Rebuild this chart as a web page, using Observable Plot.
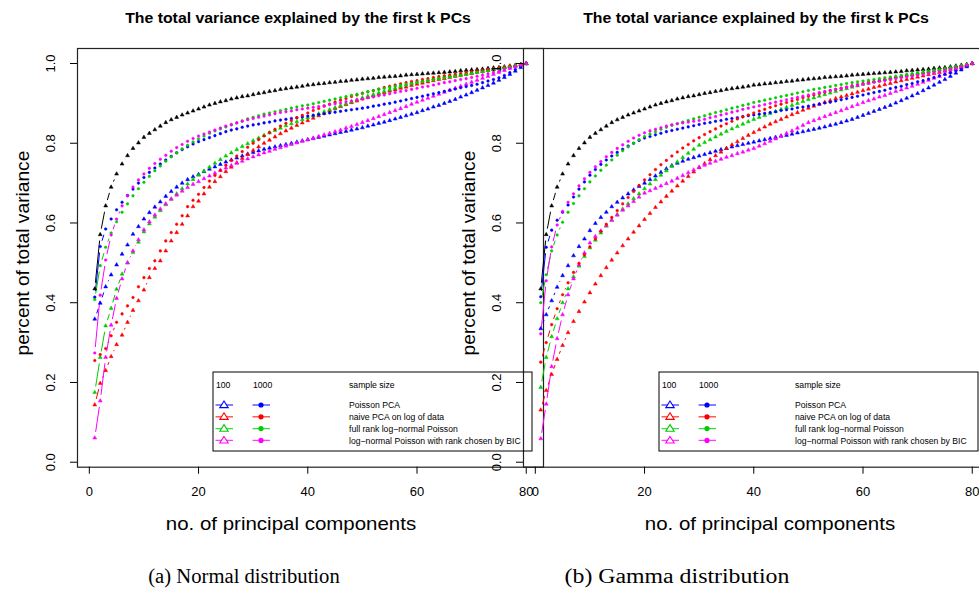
<!DOCTYPE html>
<html><head><meta charset="utf-8">
<script src="https://cdn.jsdelivr.net/npm/d3@7"></script>
<script src="https://cdn.jsdelivr.net/npm/@observablehq/plot@0.6"></script>
<style>
body{margin:0;background:#fff;}
#wrap{position:relative;width:979px;height:589px;overflow:hidden;font-family:"Liberation Sans",Arial,sans-serif;color:#000;}
.abs{position:absolute;}
.title{font-weight:bold;font-size:14px;line-height:14px;white-space:nowrap;}
.xlab{font-size:19px;line-height:19px;white-space:nowrap;}
.ylab{font-size:19px;line-height:19px;white-space:nowrap;}
.cap{font-family:"Liberation Serif","Times New Roman",serif;font-size:20px;line-height:20px;white-space:nowrap;}
</style>
</head><body>
<div id="wrap"></div>
<script>
// ---------- data ----------
const xTicks = [0, 20, 40, 60, 80];
const yTicks = [0, 0.2, 0.4, 0.6, 0.8, 1.0];
const sampleSizes = ["100", "1000"];
const methods = ["Poisson PCA", "naive PCA on log of data", "full rank log\u2212normal Poisson", "log\u2212normal Poisson with rank chosen by BIC"];
const methodColors = ["#0000FF", "#FF0000", "#00CD00", "#FF00FF"];
const panelTitles = ["The total variance explained by the first k PCs", "The total variance explained by the first k PCs"];
const captions = ["(a) Normal distribution", "(b) Gamma distribution"];
const xLabel = "no. of principal components";
const yLabel = "percent of total variance";

// black curve (same in both panels)
const trueCurve = [.435,.571,.643,.690,.723,.748,.769,.787,.801,.815,.825,.834,.843,.852,.859,.865,.871,.876,.881,.886,
.891,.896,.900,.904,.907,.911,.914,.917,.919,.922,.925,.927,.930,.932,.935,.937,.939,.941,.943,.946,
.947,.949,.950,.952,.953,.955,.956,.958,.959,.961,.962,.963,.965,.966,.967,.968,.969,.971,.972,.973,
.974,.975,.976,.977,.978,.979,.980,.982,.983,.984,.985,.986,.988,.989,.990,.992,.994,.996,.998,1.000];

// (a) Normal distribution
const normPoisson1000 = [.414,.541,.585,.610,.633,.652,.669,.685,.700,.714,.727,.738,.748,.758,.767,.776,.784,.791,.798,.804,
.809,.814,.819,.824,.829,.833,.836,.840,.843,.846,.848,.851,.853,.856,.858,.860,.862,.864,.866,.868,
.870,.872,.874,.876,.878,.880,.882,.884,.886,.888,.890,.893,.895,.898,.900,.903,.906,.909,.912,.915,
.918,.921,.924,.927,.930,.933,.936,.939,.942,.945,.948,.952,.956,.960,.964,.970,.977,.985,.992,1.0];
const normPoisson100 = [.359,.399,.440,.470,.495,.522,.545,.572,.591,.610,.626,.640,.653,.667,.679,.690,.700,.709,.716,.722,
.729,.735,.741,.747,.753,.758,.763,.768,.773,.777,.781,.785,.788,.791,.794,.797,.800,.803,.806,.809,
.812,.815,.818,.821,.824,.827,.830,.833,.836,.839,.843,.846,.850,.853,.857,.861,.865,.869,.873,.877,
.882,.886,.891,.895,.900,.905,.910,.916,.921,.927,.933,.939,.945,.951,.958,.965,.973,.981,.990,1.0];
const normNaive1000 = [.255,.270,.285,.317,.351,.372,.392,.413,.440,.463,.486,.505,.530,.555,.576,.597,.618,.641,.657,.672,
.689,.705,.719,.732,.745,.757,.768,.779,.790,.800,.809,.818,.827,.835,.843,.850,.857,.864,.870,.876,
.882,.887,.893,.898,.903,.908,.912,.917,.921,.925,.929,.932,.936,.940,.943,.946,.949,.952,.955,.957,
.960,.962,.965,.967,.969,.971,.973,.975,.977,.979,.981,.983,.985,.987,.989,.991,.993,.995,.997,1.0];
const normNaive100 = [.144,.198,.230,.265,.295,.319,.351,.381,.405,.432,.463,.486,.505,.530,.555,.576,.597,.618,.641,.655,
.673,.690,.704,.716,.729,.740,.751,.762,.772,.782,.791,.800,.808,.816,.824,.831,.838,.845,.851,.857,
.863,.869,.875,.881,.887,.892,.897,.902,.906,.911,.915,.919,.923,.927,.931,.934,.938,.941,.945,.948,
.951,.954,.957,.960,.962,.965,.968,.970,.973,.975,.978,.980,.983,.985,.988,.990,.993,.995,.998,1.0];
const normFull1000 = [.408,.493,.539,.575,.603,.627,.648,.668,.686,.702,.717,.731,.743,.755,.766,.776,.786,.795,.803,.811,
.818,.825,.831,.836,.841,.846,.851,.856,.861,.865,.869,.873,.876,.879,.882,.885,.888,.891,.894,.896,
.899,.902,.905,.908,.911,.914,.917,.920,.923,.926,.929,.932,.935,.938,.940,.943,.945,.948,.950,.953,
.955,.957,.959,.962,.964,.966,.968,.970,.972,.975,.977,.979,.981,.983,.986,.988,.991,.994,.997,1.0];
const normFull100 = [.175,.263,.342,.386,.434,.472,.500,.526,.552,.578,.598,.615,.631,.646,.660,.673,.686,.698,.709,.720,
.730,.740,.750,.759,.768,.776,.784,.792,.799,.806,.813,.820,.826,.832,.838,.844,.849,.854,.859,.864,
.869,.874,.879,.884,.889,.894,.899,.904,.909,.914,.918,.922,.926,.930,.934,.938,.942,.946,.950,.953,
.956,.959,.962,.964,.967,.969,.971,.973,.975,.977,.979,.981,.983,.985,.987,.990,.992,.995,.997,1.0];
const normBIC1000 = [.274,.419,.507,.570,.610,.643,.668,.690,.708,.723,.737,.749,.760,.770,.780,.789,.797,.805,.812,.818,
.823,.828,.833,.838,.843,.847,.851,.855,.859,.862,.865,.868,.871,.874,.877,.879,.881,.884,.886,.888,
.890,.892,.894,.897,.899,.901,.904,.906,.909,.911,.914,.916,.919,.921,.924,.927,.930,.932,.935,.938,
.941,.943,.946,.949,.952,.954,.957,.960,.962,.965,.968,.971,.974,.977,.980,.984,.988,.992,.996,1.0];
const normBIC100 = [.061,.154,.263,.344,.411,.460,.500,.530,.558,.583,.603,.620,.635,.648,.660,.670,.680,.689,.697,.704,
.711,.718,.725,.732,.738,.744,.750,.755,.761,.766,.771,.776,.780,.785,.789,.793,.797,.801,.805,.809,
.813,.817,.821,.825,.829,.833,.838,.842,.847,.852,.857,.862,.867,.872,.877,.882,.887,.892,.898,.903,
.908,.913,.918,.923,.928,.933,.938,.943,.948,.953,.958,.963,.968,.973,.978,.983,.988,.992,.996,1.0];

// (b) Gamma distribution
const gammaPoisson1000 = [.415,.539,.582,.607,.627,.645,.665,.685,.703,.720,.734,.747,.758,.768,.777,.785,.793,.800,.807,.813,
.817,.821,.825,.829,.832,.835,.838,.841,.844,.847,.850,.852,.855,.857,.860,.862,.864,.867,.869,.871,
.873,.875,.877,.879,.882,.884,.886,.889,.891,.893,.896,.898,.901,.903,.906,.909,.912,.915,.918,.921,
.924,.927,.930,.933,.937,.940,.943,.947,.950,.954,.957,.961,.965,.969,.973,.977,.982,.987,.993,1.0];
const gammaPoisson100 = [.335,.370,.405,.439,.468,.493,.518,.541,.560,.581,.599,.614,.627,.641,.652,.663,.673,.683,.692,.700,
.709,.718,.727,.736,.744,.750,.755,.760,.764,.768,.772,.776,.780,.784,.787,.791,.794,.797,.800,.803,
.806,.809,.812,.815,.818,.820,.823,.826,.829,.832,.835,.838,.841,.845,.848,.852,.856,.860,.865,.870,
.875,.880,.885,.890,.895,.901,.907,.913,.919,.925,.932,.939,.946,.953,.960,.968,.976,.984,.992,1.0];
const gammaNaive1000 = [.251,.300,.345,.385,.420,.450,.476,.499,.520,.540,.560,.579,.597,.614,.631,.648,.664,.679,.694,.708,
.721,.734,.746,.757,.768,.778,.788,.797,.806,.814,.822,.829,.836,.843,.849,.855,.861,.866,.871,.876,
.881,.885,.890,.894,.898,.902,.906,.910,.914,.918,.921,.925,.928,.932,.935,.938,.941,.944,.947,.950,
.953,.955,.958,.960,.963,.965,.967,.969,.971,.973,.975,.978,.980,.982,.985,.987,.990,.993,.996,1.0];
const gammaNaive100 = [.131,.180,.220,.258,.293,.325,.353,.378,.402,.425,.447,.468,.488,.507,.525,.543,.560,.577,.593,.609,
.624,.639,.653,.667,.680,.693,.705,.717,.728,.739,.749,.759,.769,.778,.787,.796,.804,.812,.820,.827,
.834,.841,.848,.854,.860,.866,.872,.877,.883,.888,.893,.898,.903,.907,.912,.916,.920,.924,.928,.932,
.936,.940,.943,.947,.950,.954,.957,.960,.963,.966,.969,.972,.975,.978,.981,.985,.988,.992,.996,1.0];
const gammaFull1000 = [.400,.470,.530,.570,.602,.627,.649,.668,.686,.703,.718,.732,.745,.758,.770,.781,.791,.800,.809,.817,
.823,.829,.835,.840,.845,.849,.853,.857,.861,.865,.869,.873,.877,.880,.884,.888,.891,.895,.898,.902,
.905,.908,.911,.914,.917,.920,.923,.926,.929,.932,.935,.937,.940,.942,.945,.947,.950,.952,.954,.956,
.958,.960,.962,.964,.966,.968,.970,.972,.974,.976,.978,.980,.982,.984,.986,.988,.991,.994,.997,1.0];
const gammaFull100 = [.188,.263,.315,.360,.400,.435,.465,.492,.516,.538,.557,.575,.592,.607,.621,.635,.648,.661,.673,.686,
.698,.709,.720,.731,.742,.753,.764,.775,.785,.795,.802,.809,.816,.823,.830,.836,.842,.848,.854,.860,
.865,.870,.875,.880,.885,.890,.895,.900,.905,.910,.914,.918,.922,.926,.930,.934,.937,.941,.944,.948,
.951,.954,.957,.960,.963,.966,.968,.971,.973,.976,.978,.980,.982,.984,.986,.989,.991,.994,.997,1.0];
const gammaBIC1000 = [.322,.455,.540,.595,.629,.652,.673,.693,.711,.727,.741,.754,.766,.777,.787,.796,.805,.813,.820,.826,
.831,.835,.839,.843,.846,.849,.851,.853,.855,.857,.860,.864,.867,.871,.874,.878,.881,.885,.888,.891,
.894,.897,.900,.903,.906,.909,.912,.915,.918,.921,.924,.927,.930,.932,.935,.938,.940,.943,.945,.948,
.950,.953,.955,.957,.959,.962,.964,.966,.968,.970,.972,.975,.977,.979,.982,.985,.988,.992,.996,1.0];
const gammaBIC100 = [.059,.146,.240,.310,.370,.420,.460,.495,.525,.550,.566,.580,.594,.607,.620,.632,.643,.654,.665,.675,
.681,.687,.693,.699,.705,.712,.719,.726,.733,.740,.745,.750,.755,.760,.765,.769,.774,.778,.783,.787,
.793,.799,.805,.811,.818,.825,.831,.838,.845,.852,.857,.862,.867,.872,.877,.882,.887,.892,.897,.902,
.907,.911,.916,.920,.925,.930,.934,.939,.943,.948,.953,.958,.963,.968,.973,.978,.984,.989,.995,1.0];

const panels = [
  {left: 0, titleX: 298, xlabX: 291, series: [
    {values: trueCurve, color: "#000000", size: "100"},
    {values: normPoisson100, color: methodColors[0], size: "100"},
    {values: normPoisson1000, color: methodColors[0], size: "1000"},
    {values: normNaive100, color: methodColors[1], size: "100"},
    {values: normNaive1000, color: methodColors[1], size: "1000"},
    {values: normFull100, color: methodColors[2], size: "100"},
    {values: normFull1000, color: methodColors[2], size: "1000"},
    {values: normBIC100, color: methodColors[3], size: "100"},
    {values: normBIC1000, color: methodColors[3], size: "1000"}
  ]},
  {left: 446, titleX: 756, xlabX: 770, series: [
    {values: trueCurve, color: "#000000", size: "100"},
    {values: gammaPoisson100, color: methodColors[0], size: "100"},
    {values: gammaPoisson1000, color: methodColors[0], size: "1000"},
    {values: gammaNaive100, color: methodColors[1], size: "100"},
    {values: gammaNaive1000, color: methodColors[1], size: "1000"},
    {values: gammaFull100, color: methodColors[2], size: "100"},
    {values: gammaFull1000, color: methodColors[2], size: "1000"},
    {values: gammaBIC100, color: methodColors[3], size: "100"},
    {values: gammaBIC1000, color: methodColors[3], size: "1000"}
  ]}
];

// ---------- layout ----------
const W = 560, H = 540, mL = 77, mT = 48, mR = 17, mB = 73.3;
const xDomain = [-2.16, 83.16], yDomain = [-0.0125, 1.0376];
const sx = (W - mL - mR) / (xDomain[1] - xDomain[0]);
const sy = (H - mT - mB) / (yDomain[1] - yDomain[0]);
const gapPx = 6; // R type="b" gap around points

function segments(values, color) {
  const out = [];
  for (let i = 0; i < values.length - 1; i++) {
    const x1 = i + 1, y1 = values[i], x2 = i + 2, y2 = values[i + 1];
    const len = Math.hypot((x2 - x1) * sx, (y2 - y1) * sy);
    if (len <= 2 * gapPx) continue;
    const t = gapPx / len;
    out.push({x1: x1 + (x2 - x1) * t, y1: y1 + (y2 - y1) * t, x2: x2 - (x2 - x1) * t, y2: y2 - (y2 - y1) * t, color});
  }
  return out;
}

const wrap = document.getElementById("wrap");

// place a text centred at (x, y), stretched along its length to a measured target length
function addText(cls, text, x, y, targetLen, rotate) {
  const d = document.createElement("div");
  d.className = "abs " + cls;
  d.textContent = text;
  d.style.left = x + "px";
  d.style.top = y + "px";
  wrap.appendChild(d);
  const s = targetLen / d.offsetWidth;
  d.style.transform = `translate(-50%,-50%)${rotate ? " rotate(-90deg)" : ""} scaleX(${s})`;
}

panels.forEach((p, pi) => {
  const rows = [];
  p.series.forEach(s => s.values.forEach((v, i) => rows.push({k: i + 1, v, color: s.color, size: s.size})));
  const segs = p.series.flatMap(s => segments(s.values, s.color));
  const chart = Plot.plot({
    width: W, height: H,
    marginLeft: mL, marginTop: mT, marginRight: mR, marginBottom: mB,
    x: {domain: xDomain},
    y: {domain: yDomain},
    color: {type: "identity"},
    style: {background: "transparent", overflow: "visible", maxWidth: "none", fontFamily: "Liberation Sans, Arial, sans-serif", fontSize: "13px", color: "black"},
    marks: [
      Plot.frame({stroke: "#222", strokeWidth: 1.2}),
      Plot.axisX({ticks: xTicks, tickSize: 7, tickPadding: 13, fontSize: 13, label: null, tickFormat: d => String(d)}),
      Plot.axisY({ticks: yTicks, tickSize: 7, tickPadding: 16, tickRotate: -90, fontSize: 13, label: null, tickFormat: d => d.toFixed(1)}),
      Plot.link(segs, {x1: "x1", y1: "y1", x2: "x2", y2: "y2", stroke: "color", strokeWidth: 1}),
      Plot.dot(rows.filter(d => d.size === "100"), {x: "k", y: "v", symbol: "triangle", r: 1.45, fill: "color", stroke: "color", strokeWidth: 0.5}),
      Plot.dot(rows.filter(d => d.size === "1000"), {x: "k", y: "v", r: 1.3, fill: "color", stroke: "color", strokeWidth: 0.5})
    ]
  });
  const holder = document.createElement("div");
  holder.className = "abs";
  holder.style.left = p.left + "px";
  holder.style.top = "0px";
  holder.style.width = W + "px";
  holder.appendChild(chart);
  wrap.appendChild(holder);

  addText("title", panelTitles[pi], p.titleX, 18, 346, false);
  addText("xlab", xLabel, p.xlabX, 523, 250, false);
  addText("ylab", yLabel, p.left + 22, mT + (H - mT - mB) / 2 - 4, 205, true);
});

addText("cap", captions[0], 244, 576, 192, false);
addText("cap", captions[1], 677, 576, 225, false);

// ---------- legends ----------
const svg = d3.select(wrap).append("svg")
  .attr("class", "abs").attr("width", 979).attr("height", 589)
  .style("left", "0px").style("top", "0px").style("pointer-events", "none")
  .style("font-family", "Liberation Sans, Arial, sans-serif");

// one font size for all legend texts: the longest label fits the width it has in the reference
const probe = svg.append("text").attr("font-size", 10).text(methods[3]);
const legendFont = Math.min(10, 10 * 172 / probe.node().getComputedTextLength());
probe.remove();

panels.forEach(p => {
  const ox = p.left;
  const g = svg.append("g").attr("transform", `translate(${ox},0)`).attr("font-size", legendFont);
  g.append("rect").attr("x", 213).attr("y", 372).attr("width", 319).attr("height", 79)
    .attr("fill", "none").attr("stroke", "#000").attr("stroke-width", 1);
  g.append("text").attr("x", 216).attr("y", 387.5).text(sampleSizes[0]);
  g.append("text").attr("x", 253).attr("y", 387.5).text(sampleSizes[1]);
  g.append("text").attr("x", 349).attr("y", 387.5).text("sample size");
  methods.forEach((m, i) => {
    const y = 405 + i * 11.8;
    const c = methodColors[i];
    g.append("line").attr("x1", 215.5).attr("x2", 233).attr("y1", y).attr("y2", y).attr("stroke", c).attr("stroke-width", 1.3).attr("opacity", 0.75);
    g.append("path").attr("d", `M224,${y - 4}L219.8,${y + 2.6}L228.2,${y + 2.6}Z`).attr("fill", "white").attr("stroke", c).attr("stroke-width", 1.1);
    g.append("line").attr("x1", 252.5).attr("x2", 270).attr("y1", y).attr("y2", y).attr("stroke", c).attr("stroke-width", 1.3).attr("opacity", 0.75);
    g.append("circle").attr("cx", 261).attr("cy", y).attr("r", 2.6).attr("fill", c);
    g.append("text").attr("x", 349).attr("y", y + 3.3).text(m);
  });
});
</script>
</body></html>
